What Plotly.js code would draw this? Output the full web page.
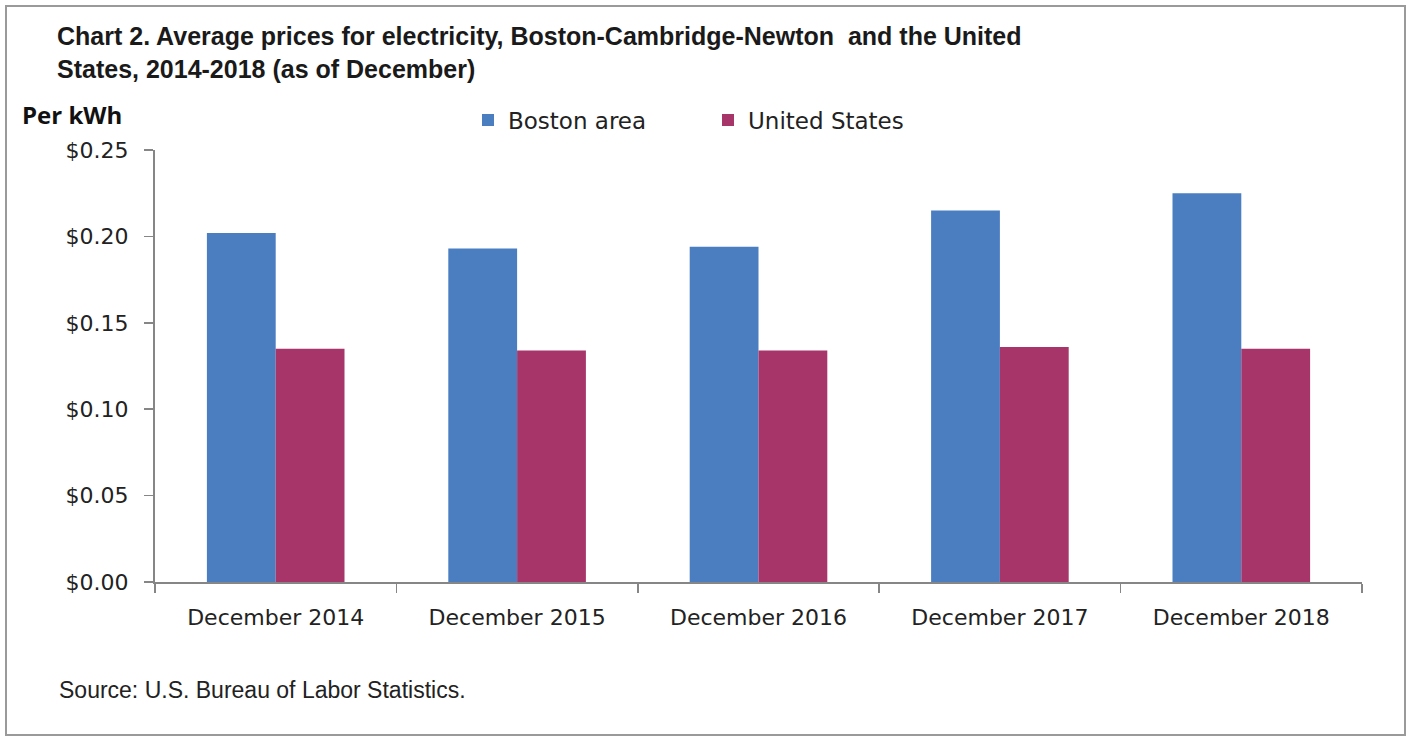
<!DOCTYPE html>
<html>
<head>
<meta charset="utf-8">
<script src="https://cdn.plot.ly/plotly-3.0.1.min.js"></script>
<style>html,body{margin:0;padding:0;background:#fff;}#chart{width:1409px;height:740px;}</style>
</head>
<body>
<div id="chart"></div>
<script>
const categories = ["December 2014", "December 2015", "December 2016", "December 2017", "December 2018"];
const bostonValues = [0.202, 0.193, 0.194, 0.215, 0.225];
const usValues = [0.135, 0.134, 0.134, 0.136, 0.135];
const seriesNames = ["Boston area", "United States"];
const yTickValues = [0, 0.05, 0.10, 0.15, 0.20, 0.25];
const yTickLabels = ["$0.00", "$0.05", "$0.10", "$0.15", "$0.20", "$0.25"];
const chartTitle = "Chart 2. Average prices for electricity, Boston-Cambridge-Newton  and the United<br>States, 2014-2018 (as of December)";
const yLabel = "Per kWh";
const sourceText = "Source: U.S. Bureau of Labor Statistics.";

const W = 1409, H = 740;
const M = {l: 155, r: 47, t: 150, b: 158};
const pw = W - M.l - M.r, ph = H - M.t - M.b;
const px = x => (x - M.l) / pw;
const py = y => (H - M.b - y) / ph;

const narrow = "'Liberation Sans Narrow', 'Arial Narrow', 'Liberation Sans', Arial, sans-serif";
const verd = "'DejaVu Sans', Verdana, sans-serif";

const traces = [
  {type: "bar", name: seriesNames[0], x: categories, y: bostonValues,
   marker: {color: "#4A7EC1"}, hoverinfo: "y"},
  {type: "bar", name: seriesNames[1], x: categories, y: usValues,
   marker: {color: "#A8356A"}, hoverinfo: "y"}
];

const layout = {
  width: W, height: H,
  margin: M,
  paper_bgcolor: "#fff", plot_bgcolor: "#fff",
  barmode: "group", bargap: 0.43, bargroupgap: 0,
  title: {text: "<b>" + chartTitle + "</b>", xref: "container", yref: "container",
          x: 57 / W, xanchor: "left", y: 1 - 45 / H, yanchor: "top",
          font: {family: narrow, size: 25, color: "#1a1a1a"}},
  showlegend: true,
  legend: {orientation: "h", x: px(468), xanchor: "left", y: py(120), yanchor: "middle",
           font: {family: verd, size: 23, color: "#222"}, entrywidthmode: "pixels", entrywidth: 195,
           bgcolor: "rgba(0,0,0,0)", traceorder: "normal"},
  xaxis: {type: "category", range: [-0.5, 4.5], tickson: "boundaries", ticks: "outside", ticklen: 9,
          tickcolor: "#868686", tickwidth: 1.5, showline: true, linecolor: "#868686", linewidth: 2,
          showgrid: false, zeroline: false, ticklabelstandoff: 15,
          tickfont: {family: verd, size: 22, color: "#222"}, fixedrange: true},
  yaxis: {range: [0, 0.25], tickvals: yTickValues, ticktext: yTickLabels, ticks: "outside", ticklen: 9,
          tickcolor: "#868686", tickwidth: 1.5, showline: true, linecolor: "#868686", linewidth: 2,
          showgrid: false, zeroline: false, ticklabelstandoff: 11,
          tickfont: {family: verd, size: 22, color: "#222"}, fixedrange: true},
  annotations: [
    {text: "<b>" + yLabel + "</b>", xref: "paper", yref: "paper", x: px(20), y: py(114),
     xanchor: "left", yanchor: "middle", showarrow: false,
     font: {family: "'Open Sans', 'DejaVu Sans', sans-serif", size: 24, color: "#111"}},
    {text: sourceText, xref: "paper", yref: "paper", x: px(57), y: py(690),
     xanchor: "left", yanchor: "middle", showarrow: false,
     font: {family: narrow, size: 23, color: "#222"}}
  ],
  shapes: [
    {type: "rect", xref: "paper", yref: "paper", x0: px(6), x1: px(1405), y0: py(735), y1: py(6),
     line: {color: "#9a9a9a", width: 2}, fillcolor: "rgba(0,0,0,0)", layer: "below"}
  ]
};

Plotly.newPlot("chart", traces, layout, {displayModeBar: false, staticPlot: true});
</script>
</body>
</html>
